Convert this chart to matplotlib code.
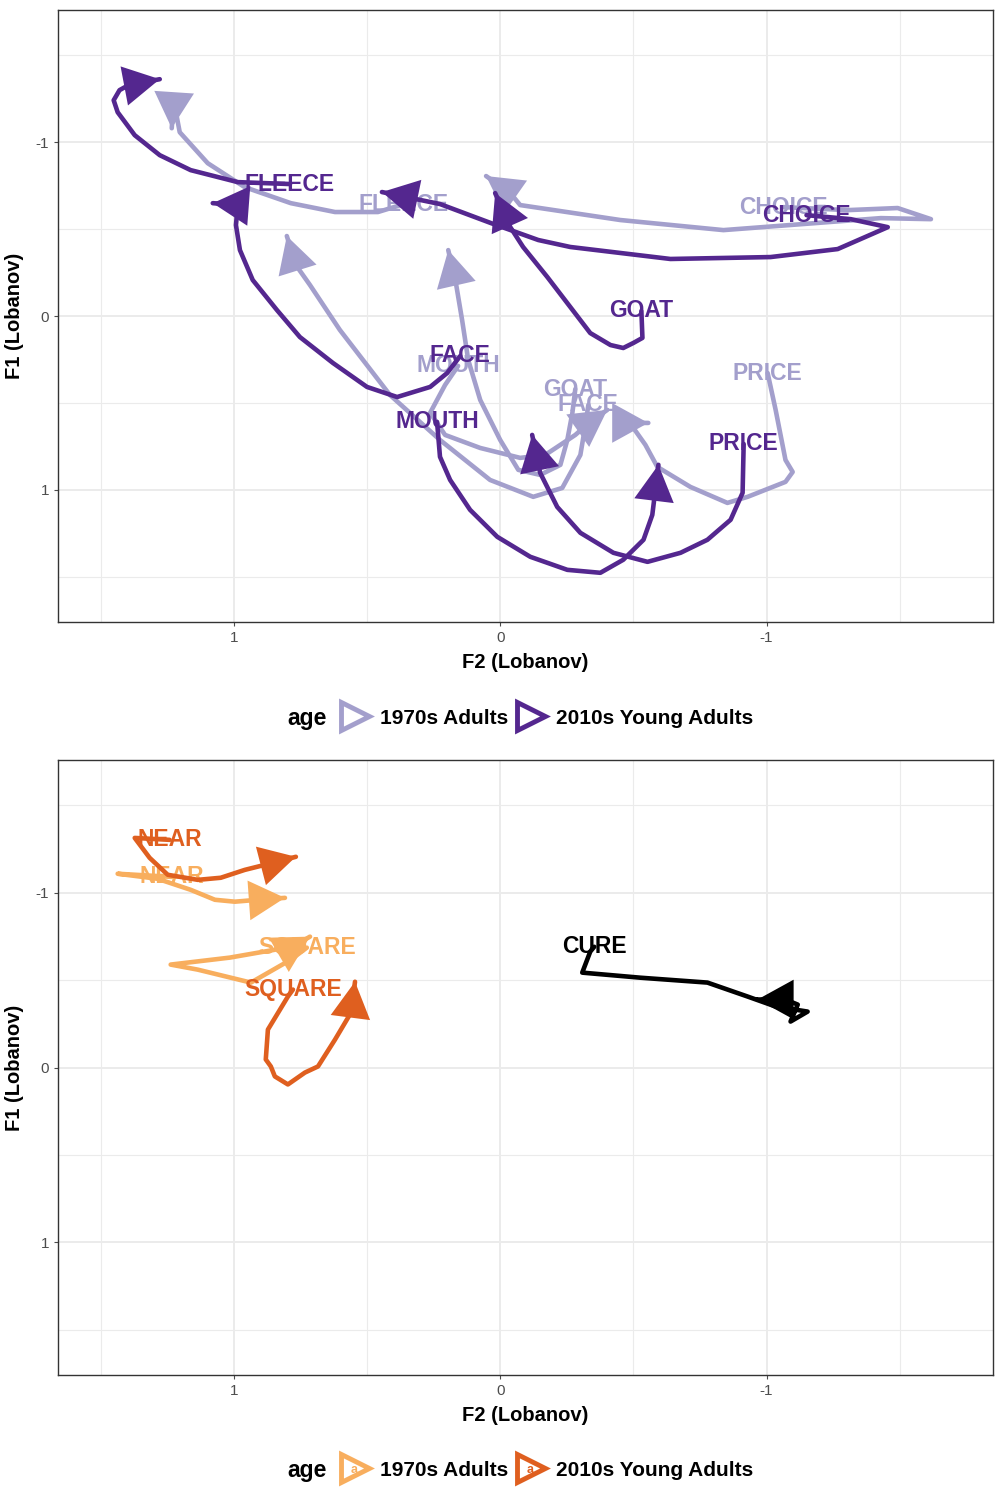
import numpy as np
import matplotlib.pyplot as plt
from matplotlib.lines import Line2D

plt.rcParams['font.family'] = ['Liberation Sans', 'DejaVu Sans']

# colours
purple_70 = '#a39fcc'
purple_10 = '#54278f'
orange_70 = '#f8ae5e'
orange_10 = '#df5f1f'
cure_col = '#000000'

groups = ['1970s Adults', '2010s Young Adults']

# ---- top panel: F2 / F1 (Lobanov) trajectories ----
fleece_70_f2 = [0.361, 0.459, 0.620, 0.786, 0.959, 1.098, 1.203, 1.226, 1.233]
fleece_70_f1 = [-0.644, -0.598, -0.598, -0.649, -0.741, -0.879, -1.057, -1.241, -1.080]
fleece_10_f2 = [0.789, 0.985, 1.162, 1.278, 1.372, 1.436, 1.451, 1.429, 1.395, 1.278]
fleece_10_f1 = [-0.759, -0.770, -0.839, -0.925, -1.040, -1.172, -1.241, -1.299, -1.328, -1.362]

choice_70_f2 = [-1.064, -1.305, -1.492, -1.617, -1.429, -0.838, -0.451, -0.075, -0.038, 0.053]
choice_70_f1 = [-0.626, -0.609, -0.621, -0.557, -0.563, -0.494, -0.552, -0.638, -0.707, -0.805]
choice_10_f2 = [-1.150, -1.316, -1.455, -1.267, -1.015, -0.639, -0.263, -0.143, 0.034, 0.226, 0.444]
choice_10_f1 = [-0.580, -0.557, -0.511, -0.385, -0.339, -0.328, -0.397, -0.437, -0.534, -0.644, -0.713]

goat_70_f2 = [-0.282, -0.271, -0.252, -0.226, -0.150, -0.068, 0.000, 0.075, 0.120, 0.143, 0.165, 0.195]
goat_70_f1 = [0.420, 0.557, 0.713, 0.856, 0.914, 0.885, 0.713, 0.483, 0.253, 0.023, -0.178, -0.379]
goat_10_f2 = [-0.530, -0.534, -0.500, -0.462, -0.414, -0.338, -0.263, -0.177, -0.086, -0.038, 0.019]
goat_10_f1 = [-0.029, 0.126, 0.155, 0.184, 0.167, 0.098, -0.052, -0.224, -0.397, -0.511, -0.707]

face_70_f2 = [-0.331, -0.320, -0.301, -0.233, -0.124, 0.038, 0.226, 0.414, 0.602, 0.714, 0.767, 0.801]
face_70_f1 = [0.511, 0.626, 0.799, 0.989, 1.040, 0.943, 0.713, 0.454, 0.080, -0.178, -0.293, -0.460]
face_10_f2 = [0.150, 0.199, 0.263, 0.387, 0.500, 0.628, 0.752, 0.838, 0.929, 0.977, 0.992, 0.985, 1.079]
face_10_f1 = [0.230, 0.328, 0.408, 0.466, 0.408, 0.270, 0.121, -0.034, -0.207, -0.379, -0.523, -0.638, -0.649]

mouth_70_f2 = [0.158, 0.207, 0.263, 0.207, 0.075, -0.075, -0.169, -0.282, -0.338, -0.402]
mouth_70_f1 = [0.287, 0.397, 0.557, 0.684, 0.759, 0.816, 0.799, 0.684, 0.609, 0.540]
mouth_10_f2 = [0.237, 0.226, 0.188, 0.113, 0.011, -0.113, -0.252, -0.376, -0.462, -0.538, -0.571, -0.594]
mouth_10_f1 = [0.609, 0.810, 0.943, 1.115, 1.270, 1.385, 1.460, 1.477, 1.402, 1.287, 1.144, 0.856]

price_70_f2 = [-1.004, -1.034, -1.071, -1.098, -1.071, -0.929, -0.853, -0.714, -0.590, -0.545, -0.500, -0.459, -0.556]
price_70_f1 = [0.328, 0.540, 0.828, 0.897, 0.954, 1.040, 1.075, 0.983, 0.868, 0.741, 0.644, 0.615, 0.615]
price_10_f2 = [-0.914, -0.910, -0.865, -0.778, -0.677, -0.553, -0.425, -0.301, -0.214, -0.150, -0.120]
price_10_f1 = [0.736, 1.017, 1.172, 1.287, 1.362, 1.414, 1.362, 1.247, 1.098, 0.902, 0.684]

# ---- bottom panel ----
near_70_f2 = [1.233, 1.436, 1.286, 1.162, 1.071, 0.996, 0.910, 0.808]
near_70_f1 = [-1.091, -1.109, -1.080, -1.017, -0.960, -0.949, -0.960, -0.971]
near_10_f2 = [1.241, 1.372, 1.316, 1.248, 1.135, 1.049, 0.959, 0.883, 0.767]
near_10_f1 = [-1.303, -1.314, -1.200, -1.103, -1.074, -1.086, -1.131, -1.160, -1.206]

square_70_f2 = [0.726, 0.786, 0.936, 1.135, 1.237, 1.015, 0.846, 0.759, 0.714]
square_70_f1 = [-0.686, -0.617, -0.486, -0.560, -0.589, -0.629, -0.674, -0.709, -0.749]
square_10_f2 = [0.778, 0.797, 0.872, 0.880, 0.861, 0.846, 0.797, 0.733, 0.684, 0.620, 0.560, 0.545]
square_10_f1 = [-0.446, -0.406, -0.217, -0.046, -0.006, 0.051, 0.097, 0.029, -0.006, -0.160, -0.314, -0.491]

cure_f2 = [-0.353, -0.338, -0.308, -0.526, -0.778, -0.929, -1.034, -1.154, -1.090, -1.117, -1.071, -0.966]
cure_f1 = [-0.691, -0.663, -0.543, -0.514, -0.486, -0.406, -0.349, -0.320, -0.263, -0.360, -0.389, -0.389]


fig = plt.figure(figsize=(9.96, 14.87), dpi=100)
ax1 = fig.add_axes([58 / 996, 1 - 622 / 1487, 935 / 996, 612 / 1487])
ax2 = fig.add_axes([58 / 996, 1 - 1375 / 1487, 935 / 996, 615 / 1487])


def style(ax):
    ax.set_xlim(1.66, -1.85)
    ax.set_ylim(1.76, -1.76)
    ax.set_xticks([1, 0, -1])
    ax.set_xticklabels(['1', '0', '-1'])
    ax.set_yticks([-1, 0, 1])
    ax.set_yticklabels(['-1', '0', '1'])
    ax.set_xticks([1.5, 0.5, -0.5, -1.5], minor=True)
    ax.set_yticks([-1.5, -0.5, 0.5, 1.5], minor=True)
    ax.grid(which='major', color='#ebebeb', lw=1.4, zorder=0)
    ax.grid(which='minor', color='#ebebeb', lw=0.8, zorder=0)
    ax.set_axisbelow(True)
    ax.tick_params(which='major', length=3, color='#4d4d4d', labelsize=11,
                   labelcolor='#4d4d4d', width=0.8)
    ax.tick_params(which='minor', length=0)
    for s in ax.spines.values():
        s.set_color('#333333')
        s.set_linewidth(1.0)
    ax.set_xlabel('F2 (Lobanov)', fontsize=14.5, fontweight='bold', labelpad=6)
    ax.set_ylabel('F1 (Lobanov)', fontsize=14.5, fontweight='bold', labelpad=8)


def trajectory(ax, f2, f1, label, color, z):
    ax.plot(f2, f1, color=color, lw=3.3, solid_joinstyle='round',
            solid_capstyle='round', zorder=z)
    p1 = ax.transData.transform((f2[-1], f1[-1]))
    p0 = ax.transData.transform((f2[-2], f1[-2]))
    d = (p1 - p0) / np.hypot(*(p1 - p0))
    ax.annotate('', xy=(f2[-1], f1[-1]), xytext=(-d[0] * 40, -d[1] * 40),
                textcoords='offset points', zorder=z,
                arrowprops=dict(arrowstyle='-|>,head_length=1.0,head_width=0.55',
                                mutation_scale=26, color=color, lw=0,
                                shrinkA=0, shrinkB=0))
    ax.text(f2[0], f1[0], label, ha='center', va='center', fontsize=16.5,
            fontweight='bold', color=color, zorder=z + 0.5)


style(ax1)
style(ax2)

top_70 = [(fleece_70_f2, fleece_70_f1, 'FLEECE'), (choice_70_f2, choice_70_f1, 'CHOICE'),
          (goat_70_f2, goat_70_f1, 'GOAT'), (face_70_f2, face_70_f1, 'FACE'),
          (mouth_70_f2, mouth_70_f1, 'MOUTH'), (price_70_f2, price_70_f1, 'PRICE')]
top_10 = [(fleece_10_f2, fleece_10_f1, 'FLEECE'), (choice_10_f2, choice_10_f1, 'CHOICE'),
          (goat_10_f2, goat_10_f1, 'GOAT'), (face_10_f2, face_10_f1, 'FACE'),
          (mouth_10_f2, mouth_10_f1, 'MOUTH'), (price_10_f2, price_10_f1, 'PRICE')]
for f2, f1, lab in top_70:
    trajectory(ax1, f2, f1, lab, purple_70, 3)
for f2, f1, lab in top_10:
    trajectory(ax1, f2, f1, lab, purple_10, 5)

trajectory(ax2, near_70_f2, near_70_f1, 'NEAR', orange_70, 3)
trajectory(ax2, square_70_f2, square_70_f1, 'SQUARE', orange_70, 3)
trajectory(ax2, near_10_f2, near_10_f1, 'NEAR', orange_10, 5)
trajectory(ax2, square_10_f2, square_10_f1, 'SQUARE', orange_10, 5)
trajectory(ax2, cure_f2, cure_f1, 'CURE', cure_col, 6)


# legends
def legend(ypix, cols, key_text=False):
    fig.text(307 / 996, 1 - ypix / 1487, 'age', ha='center', va='center',
             fontsize=16.5, fontweight='bold')
    handles = [Line2D([], [], ls='none', marker='>', markersize=20,
                      mfc='white', mec=c, mew=3.5) for c in cols]
    fig.legend(handles, groups, loc='center left', ncol=2, frameon=False,
               bbox_to_anchor=(332 / 996, 1 - ypix / 1487),
               prop={'weight': 'bold', 'size': 15}, handlelength=1.2,
               handletextpad=0.6, columnspacing=0.5, borderpad=0)
    if key_text:
        for xp, c in zip([354, 530], cols):
            fig.text(xp / 996, 1 - ypix / 1487, 'a', ha='center', va='center',
                     fontsize=9, fontweight='bold', color=c, zorder=20)


legend(718, [purple_70, purple_10])
legend(1470, [orange_70, orange_10], key_text=True)

fig.savefig('out.png', dpi=100)
